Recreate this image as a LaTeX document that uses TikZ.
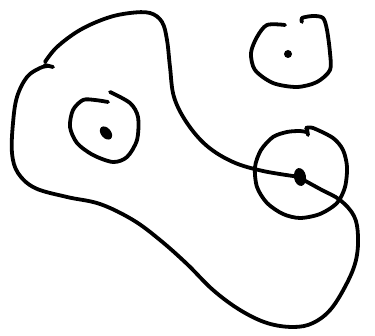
\documentclass[tikz,border=0pt]{standalone}
\begin{document}
\begin{tikzpicture}[x=1pt,y=-1pt,
  ink/.style={line width=3.8pt, line cap=round, line join=round, black}]
\useasboundingbox (0,0) rectangle (375,336);
% big region outline
\draw[ink] plot[smooth, tension=0.6] coordinates {(45,62) (57,47) (80,30) (107,18) (130,13) (150,13) (162,22) (167,40) (170,67) (174,97) (187,123) (207,146) (233,162) (263,171) (300,177)};
\draw[ink] plot[smooth, tension=0.6] coordinates {(300,178) (320,189) (340,200) (354,216) (358,236) (356,260) (347,283) (331,309) (313,323) (293,327) (267,323) (240,310) (213,290) (187,264) (160,240) (133,220) (100,204) (67,197) (35,188) (18,173) (12,153) (13,123) (17,97) (27,77) (40,68) (48,66)};
\draw[ink] (45,65) -- (53,67);
% right circle
\draw[ink] plot[smooth, tension=0.5] coordinates {(306,132) (300,131) (287,132) (273,137) (261,150) (255,167) (257,187) (267,203) (283,214) (300,218) (320,214) (337,203) (345,187) (347,167) (343,150) (333,138) (313,128) (306,128)};
\draw[ink] (307,129) -- (308,135);
\fill[rotate around={10:(300,177)}] (300,177) ellipse[x radius=6pt, y radius=9pt];
% left circle
\draw[ink] plot[smooth, tension=0.5] coordinates {(108,102) (95,100) (83,100) (73,110) (70,127) (77,143) (93,155) (113,162) (127,157) (137,140) (138,117) (130,103) (110,92)};
\fill[rotate around={-50:(106,133)}] (106,133) ellipse[x radius=7.5pt, y radius=5pt];
% top-right circle
\draw[ink] plot[smooth, tension=0.5] coordinates {(285,25) (267,25) (257,37) (251,53) (255,70) (273,83) (297,87) (317,82) (330,70) (330,53) (327,30) (323,18) (313,16) (302,18) (302,22)};
\fill (288,54) circle[radius=4pt];
\end{tikzpicture}
\end{document}
